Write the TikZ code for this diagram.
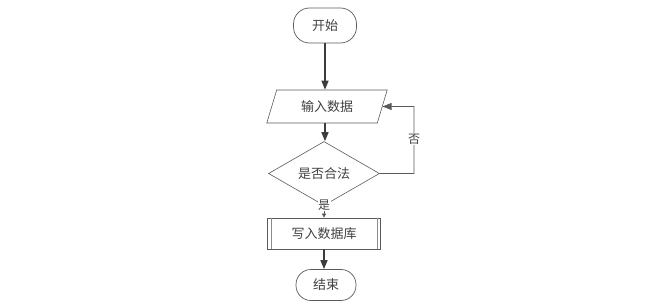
\documentclass[tikz,border=0pt]{standalone}
\usepackage{fontspec}
\setmainfont{Noto Sans CJK SC}
\usetikzlibrary{shapes.geometric,shapes.misc,arrows.meta}
\definecolor{lineC}{HTML}{3C3C3C}
\definecolor{edgeC}{HTML}{5A5A5A}
\tikzset{
  every node/.style={font=\fontsize{13pt}{14pt}\selectfont, text=black!75},
  term/.style={draw=edgeC, line width=0.7pt, rounded corners=16pt, minimum width=63pt, minimum height=35pt, inner sep=0pt},
  iobox/.style={trapezium, trapezium left angle=67, trapezium right angle=113, trapezium stretches=true, draw=edgeC, line width=0.6pt, minimum width=121pt, minimum height=33pt, inner sep=0pt},
  decide/.style={diamond, draw=edgeC, line width=0.6pt, minimum width=111pt, minimum height=37pt, inner sep=0pt},
  proc/.style={draw=edgeC, line width=0.6pt, minimum width=113pt, minimum height=31pt, inner sep=0pt},
  flow/.style={draw=lineC, line width=1.4pt, -{Triangle[length=9pt,width=7pt]}},
  thinflow/.style={draw=edgeC, line width=0.8pt, -{Triangle[length=9pt,width=7pt]}},
  small/.style={draw=edgeC, line width=0.5pt, -{Triangle[length=4pt,width=4pt]}},
  lbl/.style={fill=white, inner sep=0.5pt, font=\fontsize{12pt}{13pt}\selectfont},
}
\begin{document}
\begin{tikzpicture}[x=1pt,y=-1pt]
\useasboundingbox (0,0) rectangle (662,305);
\node[term] (start) at (325,25.5) {开始};
\node[iobox] (input) at (327,106.5) {输入数据};
\node[decide] (check) at (324,173.5) {是否合法};
\node[proc] (write) at (324,233.5) {写入数据库};
\draw[edgeC!70, line width=0.5pt] ([xshift=4pt]write.north west) -- ([xshift=4pt]write.south west)
  ([xshift=-4pt]write.north east) -- ([xshift=-4pt]write.south east);
\node[term, minimum width=60pt, minimum height=31pt, rounded corners=15pt] (stop) at (326,285) {结束};
\coordinate (c1) at (414,173.5);
\coordinate (c2) at (414,106.5);
\draw[flow] (start.south) -- (input.north -| start.south);
\draw[flow] (input.south -| start.south) -- (check.north -| start.south);
\draw[small] (check.south) -- (write.north -| check.south);
\node[lbl] (yes) at (324,205.5) {是};
\draw[flow] (write.south -| check.south) -- (stop.north -| check.south);
\draw[thinflow] (check.east) -- (c1) -- (c2) -- (input.east);
\node[lbl] (no) at (414,139) {否};
\end{tikzpicture}
\end{document}
